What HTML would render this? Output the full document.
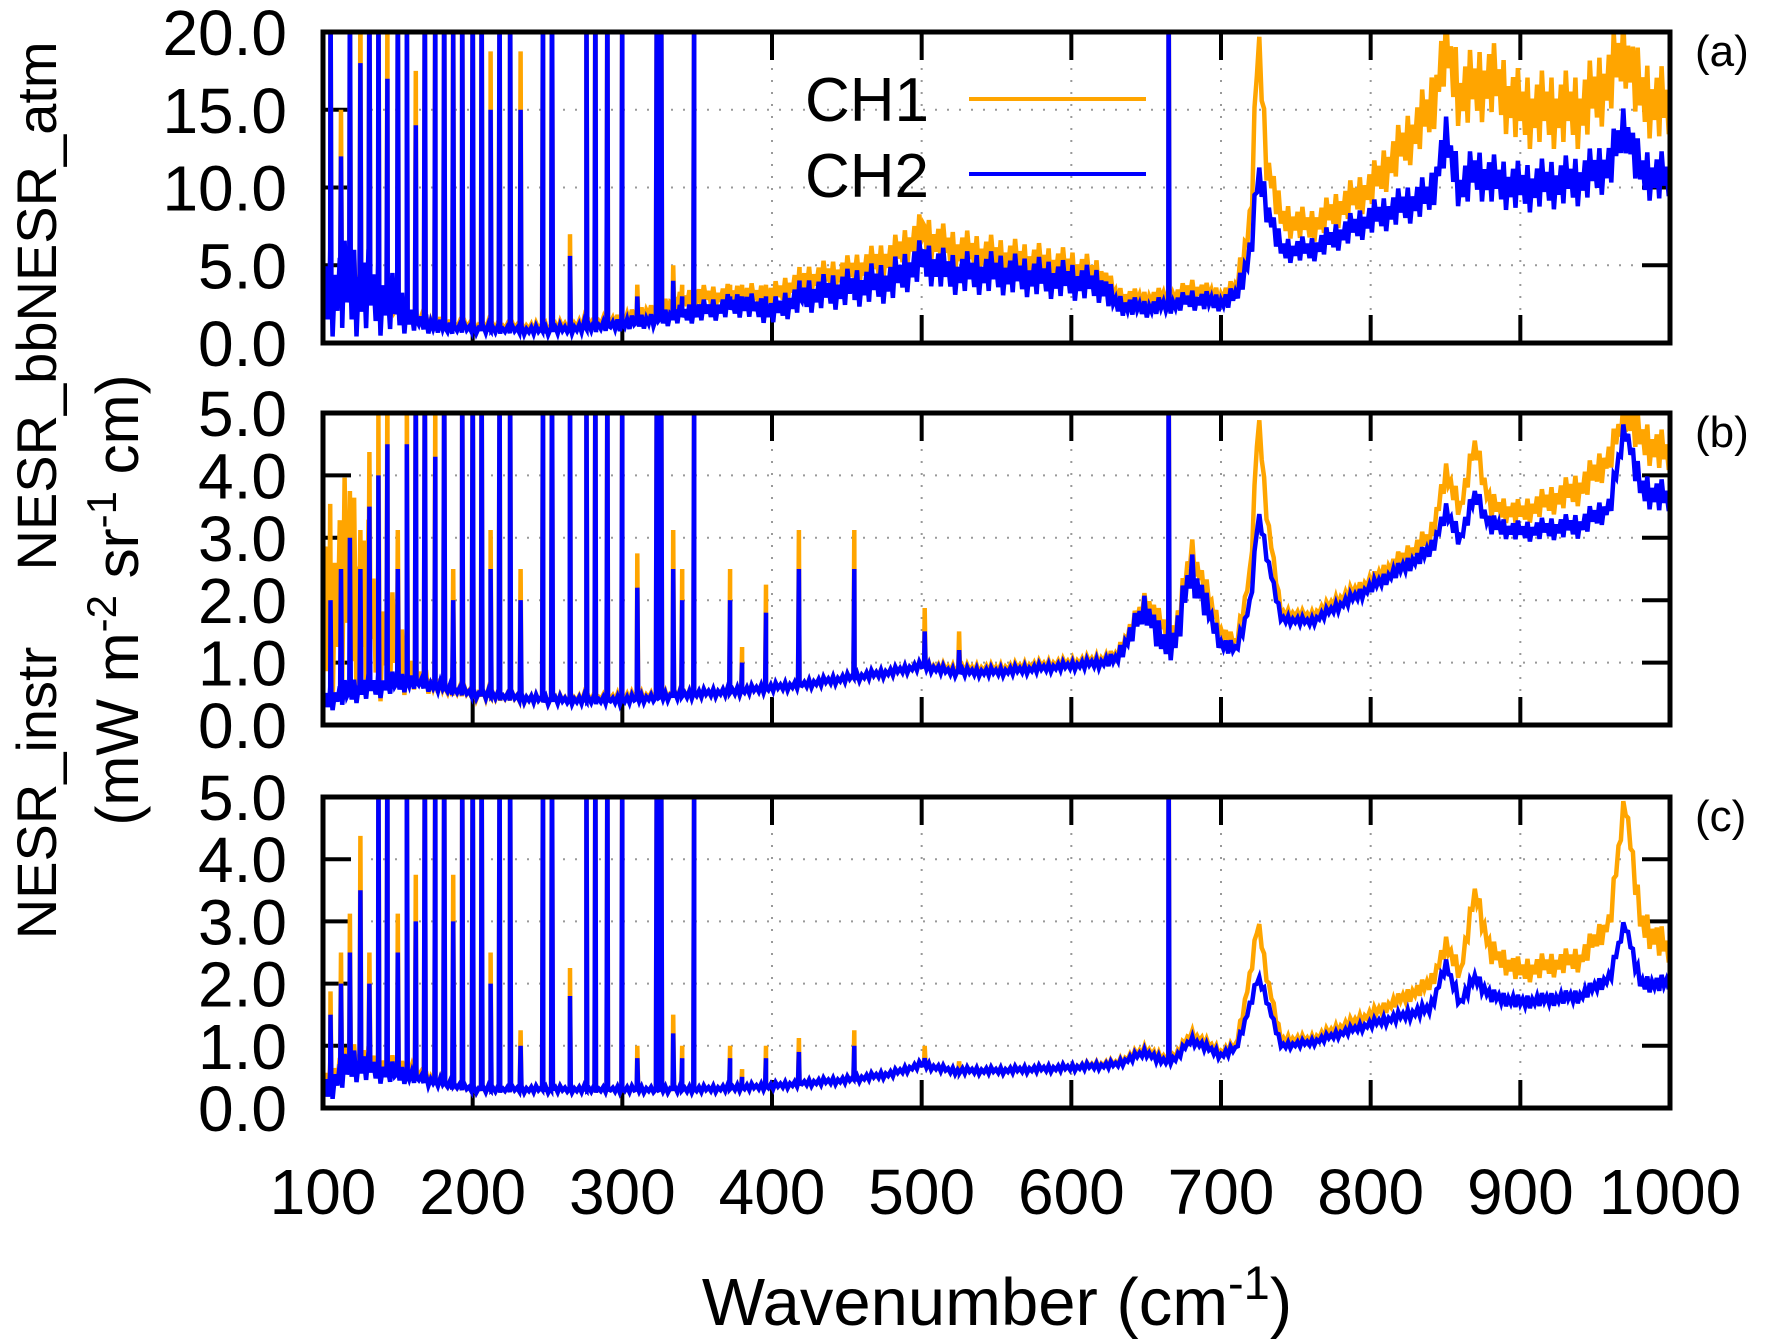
<!DOCTYPE html>
<html><head><meta charset="utf-8"><style>
html,body{margin:0;padding:0;background:#fff;}
svg{display:block;font-family:"Liberation Sans",Arial,sans-serif;}
</style></head><body>
<svg id="chart" width="1767" height="1344" viewBox="0 0 1767 1344" xmlns="http://www.w3.org/2000/svg">
<g id="panels"></g>
<text x="997" y="1325" font-size="67" text-anchor="middle">Wavenumber (cm<tspan dy="-26" font-size="47">-1</tspan><tspan dy="26">)</tspan></text>
<text transform="translate(56,306) rotate(-90)" font-size="56" text-anchor="middle">NESR_bbNESR_atm</text>
<text transform="translate(138,600) rotate(-90)" font-size="60" text-anchor="middle">(mW m<tspan dy="-22" font-size="42">-2</tspan><tspan dy="22"> sr</tspan><tspan dy="-22" font-size="42">-1</tspan><tspan dy="22"> cm)</tspan></text>
<text transform="translate(56,793) rotate(-90)" font-size="56" text-anchor="middle">NESR_instr</text>
<g>
<text x="929" y="121" font-size="62" text-anchor="end">CH1</text>
<line x1="969" y1="99" x2="1146" y2="99" stroke="#ffa500" stroke-width="4"/>
<text x="929" y="197" font-size="62" text-anchor="end">CH2</text>
<line x1="969" y1="174" x2="1146" y2="174" stroke="#0000ff" stroke-width="4"/>
</g>
</svg>
<script>
const W = [100,120,140,160,180,200,250,300,350,380,400,420,450,480,500,520,550,600,620,630,650,660,670,680,700,710,720,725,730,740,760,800,840,850,860,870,880,900,940,960,970,980,1000];
const aCH1 = [3,4,3,1.5,1.2,1.1,1.0,1.5,3,3,3,4,4.5,5.5,7,6,5.5,4.8,4.3,3,2.8,3,3,3.5,3,3.5,8,20,12,8,7.5,10,15,19,16,16.5,17,15,15,17,19,16,15];
const aCH2 = [3.5,3.5,3,1.5,1,0.9,0.8,1.2,2,2.5,2,3,3.5,4,5.3,4.5,4.5,4,3.7,2.5,2.2,2.4,2.5,2.8,2.6,3,6,11,9,6,6,8,9.5,13,10,11,10.5,10,10.5,11.5,14,11,10.5];
const bCH1 = [2,2.2,1.5,0.8,0.6,0.5,0.4,0.45,0.5,0.55,0.6,0.65,0.75,0.85,0.95,0.9,0.9,1.0,1.05,1.1,2.0,1.6,1.5,2.8,1.5,1.3,2.5,5,3.5,1.8,1.75,2.3,3.0,4.0,3.5,4.5,3.5,3.4,3.8,4.3,5,4.6,4.3];
const bCH2 = [0.4,0.55,0.65,0.7,0.6,0.5,0.4,0.4,0.5,0.55,0.6,0.65,0.75,0.85,0.95,0.85,0.85,0.95,1.0,1.05,1.9,1.3,1.4,2.5,1.3,1.2,2.0,3.4,2.8,1.7,1.65,2.2,2.8,3.4,3.0,3.7,3.2,3.1,3.2,3.5,4.8,3.8,3.6];
const cCH1 = [0.4,0.8,0.7,0.6,0.4,0.3,0.3,0.3,0.3,0.33,0.35,0.4,0.45,0.55,0.7,0.6,0.6,0.65,0.7,0.72,0.95,0.8,0.85,1.2,0.9,1.0,2.2,3.0,2.2,1.1,1.1,1.5,2.0,2.6,2.2,3.5,2.5,2.2,2.4,3.0,5,3,2.5];
const cCH2 = [0.3,0.7,0.6,0.5,0.4,0.3,0.3,0.3,0.3,0.33,0.35,0.4,0.45,0.55,0.7,0.6,0.6,0.65,0.68,0.7,0.9,0.75,0.8,1.1,0.85,0.95,1.7,2.1,1.8,1.0,1.05,1.35,1.6,2.3,1.7,2.1,1.8,1.7,1.8,2.1,3.0,2.0,2.0];
const aNoise1 = [1.5,1.5,1.2,0.5,0.3,0.2,0.2,0.3,0.5,0.6,0.6,0.7,0.8,0.9,1,1,1,0.9,0.8,0.5,0.4,0.4,0.4,0.5,0.4,0.5,1,1,1,0.8,0.8,1,1.5,1.8,1.8,1.8,1.8,1.8,1.8,1.8,1.8,1.8,1.8];
const aNoise2 = [2.2,2.2,1.8,0.6,0.3,0.2,0.2,0.3,0.5,0.6,0.6,0.8,0.9,1,1,1,1,0.9,0.8,0.5,0.4,0.4,0.4,0.5,0.4,0.5,0.8,0.8,0.8,0.6,0.6,0.8,1,1.2,1.2,1.2,1.2,1.2,1.2,1.2,1.2,1.2,1.2];
const bNoise1 = [1.3,1.3,0.8,0.2,0.08,0.06,0.05,0.05,0.05,0.05,0.05,0.05,0.05,0.05,0.05,0.05,0.05,0.05,0.06,0.08,0.15,0.15,0.2,0.2,0.1,0.08,0.1,0.1,0.1,0.05,0.05,0.08,0.15,0.15,0.15,0.15,0.15,0.15,0.2,0.2,0.2,0.25,0.25];
const bNoise2 = [0.15,0.15,0.15,0.1,0.06,0.05,0.05,0.05,0.05,0.05,0.05,0.05,0.05,0.05,0.05,0.05,0.05,0.05,0.06,0.08,0.2,0.2,0.25,0.25,0.1,0.08,0.08,0.08,0.08,0.05,0.05,0.07,0.1,0.12,0.12,0.12,0.12,0.12,0.15,0.15,0.15,0.2,0.2];
const cNoise1 = [0.2,0.2,0.15,0.08,0.05,0.04,0.04,0.04,0.04,0.04,0.04,0.04,0.04,0.04,0.04,0.04,0.04,0.04,0.04,0.04,0.05,0.05,0.05,0.05,0.05,0.05,0.08,0.08,0.08,0.05,0.05,0.06,0.1,0.12,0.12,0.12,0.15,0.15,0.15,0.15,0.15,0.2,0.2];
const cNoise2 = [0.2,0.2,0.15,0.08,0.05,0.04,0.04,0.04,0.04,0.04,0.04,0.04,0.04,0.04,0.04,0.04,0.04,0.04,0.04,0.04,0.05,0.05,0.05,0.05,0.05,0.05,0.06,0.06,0.06,0.04,0.04,0.05,0.07,0.08,0.08,0.08,0.08,0.08,0.08,0.08,0.08,0.1,0.1];
const spikeWn = [105,112,118,125,131,137,143,150,156,162,168,175,181,187,193,200,206,212,218,225,232,247,253,265,276,282,290,300,310,323,326,334,340,348,372,380,396,418,455,502,525,665];
const spikeA = [25,12,25,18,25,25,17,25,25,14,25,25,25,20,25,25,25,15,25,25,15,25,25,5.6,25,25,25,25,3,25,25,4,3,25,3,3,3,3.5,3,6,4,25];
const spikeB = [2,2.5,3,2.5,3.5,4,4.5,2.5,4.5,6,6,4.3,6,2,6,6,6,2.5,6,6,2,6,6,6,6,6,6,6,2.2,6,6,2.5,2,6,2.0,1.0,1.8,2.5,2.5,1.5,1.2,6];
const spikeC = [1.5,2,2.5,3.5,2,6,6,2.5,6,3,6,6,6,3,6,6,6,2,6,6,1,6,6,1.8,6,6,6,6,0.8,6,6,1.2,0.8,6,0.8,0.5,0.8,0.9,1,0.8,0.6,6];
const xTicks = [100,200,300,400,500,600,700,800,900,1000];
const aTicks = ["0.0","5.0","10.0","15.0","20.0"];
const bcTicks = ["0.0","1.0","2.0","3.0","4.0","5.0"];

const NS="http://www.w3.org/2000/svg";
const L=323,R=1670;
const panels=[
 {id:'a',top:32,bot:343,max:20,ticks:aTicks,c1:aCH1,c2:aCH2,n1:aNoise1,n2:aNoise2,sp:spikeA},
 {id:'b',top:413,bot:725,max:5,ticks:bcTicks,c1:bCH1,c2:bCH2,n1:bNoise1,n2:bNoise2,sp:spikeB},
 {id:'c',top:797,bot:1108,max:5,ticks:bcTicks,c1:cCH1,c2:cCH2,n1:cNoise1,n2:cNoise2,sp:spikeC}];
const xs=w=>L+(w-100)/900*(R-L);
const root=document.getElementById('panels');
function mk(t,attrs,parent){const e=document.createElementNS(NS,t);for(const k in attrs)e.setAttribute(k,attrs[k]);parent.appendChild(e);return e;}
function interp(arr,w){for(let i=0;i<W.length-1;i++){if(w>=W[i]&&w<=W[i+1]){const f=(w-W[i])/(W[i+1]-W[i]);return arr[i]+f*(arr[i+1]-arr[i]);}}return arr[arr.length-1];}
panels.forEach((p,pi)=>{
 const ys=v=>p.bot-v/p.max*(p.bot-p.top);
 const g=mk('g',{},root);
 
 
 const cp=mk('clipPath',{id:'clip'+p.id},g);
 mk('rect',{x:L,y:p.top,width:R-L,height:p.bot-p.top},cp);
 p.ticks.forEach((t,i)=>{
  const v=i*p.max/(p.ticks.length-1),y=ys(v);
  if(i>0&&i<p.ticks.length-1){const gl=mk('line',{x1:L,x2:R,y1:y,y2:y,stroke:'#999','stroke-width':2,'stroke-dasharray':'2,10'},g);
   
   }
  const tl=mk('text',{x:287,y:y+23,'font-size':64,'text-anchor':'end'},g);tl.textContent=t;
  
  
  mk('line',{x1:L,x2:L+28,y1:y,y2:y,stroke:'#000','stroke-width':4},g);
  mk('line',{x1:R-28,x2:R,y1:y,y2:y,stroke:'#000','stroke-width':4},g);
 });
 xTicks.forEach((w,i)=>{
  const x=xs(w);
  if(i>0&&i<xTicks.length-1){const gl=mk('line',{x1:x,x2:x,y1:p.top,y2:p.bot,stroke:'#999','stroke-width':2,'stroke-dasharray':'2,10'},g);
   
   }
  mk('line',{x1:x,x2:x,y1:p.bot-28,y2:p.bot,stroke:'#000','stroke-width':4},g);
  mk('line',{x1:x,x2:x,y1:p.top,y2:p.top+28,stroke:'#000','stroke-width':4},g);
 });
 [[p.c1,p.n1,'#ffa500','ch1',1.25],[p.c2,p.n2,'#0000ff','ch2',1]].forEach(([arr,nz,col,nm,sf])=>{
  const evs=[];
  let k=0;
  for(let w=100;w<=1000;w+=1.6){const s=(k%2?1:-1)*((k%5)/4+0.4);k++;
   evs.push({w:w,v:Math.max(0.02,interp(arr,w)+s*interp(nz,w))});}
  spikeWn.forEach((w,i)=>{const b=interp(arr,w);const h=Math.max(b,p.sp[i]*sf);
   evs.push({w:w-0.6,v:b});evs.push({w:w,v:h});evs.push({w:w+0.6,v:b});});
  evs.sort((a,b)=>a.w-b.w);
  const pts=evs.map(e=>xs(e.w).toFixed(1)+','+ys(Math.min(e.v,p.max*1.3)).toFixed(1));
  const pl=mk('polyline',{points:pts.join(' '),fill:'none',stroke:col,'stroke-width':4.5,'stroke-linejoin':'miter','clip-path':'url(#clip'+p.id+')'},g);
  
  
 });
 const fr=mk('rect',{x:L,y:p.top,width:R-L,height:p.bot-p.top,fill:'none',stroke:'#000','stroke-width':5},g);
 
 
 const lab=mk('text',{x:1695,y:p.top+34,'font-size':44},g);lab.textContent='('+p.id+')';
 
 
});
xTicks.forEach(w=>{
 const t=mk('text',{x:xs(w),y:1214,'font-size':64,'text-anchor':'middle'},root);t.textContent=w;
 
 
});
</script>
</body></html>
